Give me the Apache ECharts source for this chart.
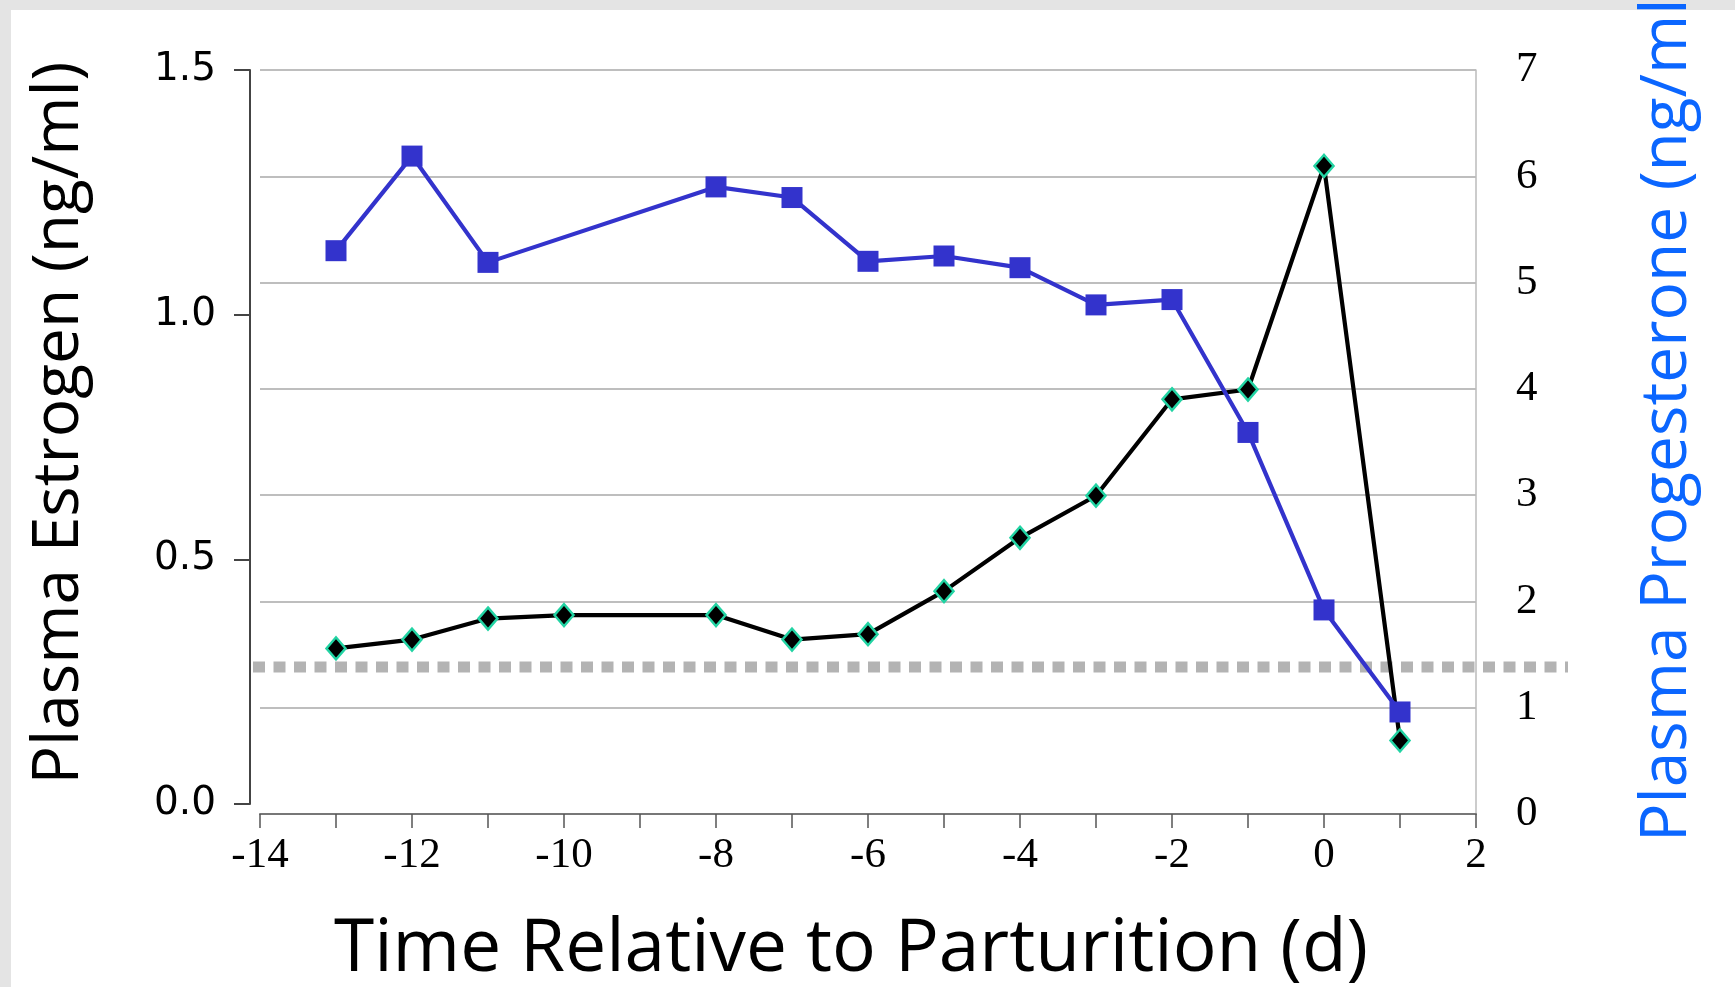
<!DOCTYPE html>
<html>
<head>
<meta charset="utf-8">
<script src="https://cdn.jsdelivr.net/npm/echarts@6/dist/echarts.min.js"></script>
<style>
  html, body { margin: 0; padding: 0; background: #ffffff; }
  #chart { width: 1735px; height: 987px; }
</style>
</head>
<body>
<div id="chart"></div>
<script>
// ---- data ----
const estrogenDays = [-13, -12, -11, -10, -8, -7, -6, -5, -4, -3, -2, -1, 0, 1];
const estrogen = [0.318, 0.336, 0.379, 0.386, 0.386, 0.336, 0.347, 0.435, 0.544, 0.630, 0.827, 0.847, 1.304, 0.130];
const progesteroneDays = [-13, -12, -11, -8, -7, -6, -5, -4, -3, -2, -1, 0, 1];
const progesterone = [5.30, 6.19, 5.19, 5.90, 5.80, 5.20, 5.25, 5.14, 4.79, 4.84, 3.59, 1.92, 0.96];
const thresholdValue = 0.28;
const xRange = [-14, 2];
const progRange = [0, 7];
const estRange = [0, 1.5];

const titleX = 'Time Relative to Parturition (d)';
const titleLeft = 'Plasma Estrogen (ng/ml)';
const titleRight = 'Plasma Progesterone (ng/ml)';

const estData = estrogenDays.map((d, i) => [d, estrogen[i]]);
const progData = progesteroneDays.map((d, i) => [d, progesterone[i]]);
const thrData = [[0, thresholdValue], [1, thresholdValue]];

const chart = echarts.init(document.getElementById('chart'), null, { renderer: 'canvas' });

const serif = 'Liberation Serif, Times New Roman, serif';
const sans = 'Open Sans, Noto Sans, sans-serif';

chart.setOption({
  animation: false,
  backgroundColor: '#ffffff',
  grid: [
    { left: 260, right: 259, top: 70, bottom: 173 },
    { left: 260, right: 259, top: 70, bottom: 183 },
    { left: 253, right: 167, top: 70, bottom: 183 }
  ],
  xAxis: [
    {
      gridIndex: 0, type: 'value', min: xRange[0], max: xRange[1], interval: 2,
      axisLine: { show: true, onZero: false, lineStyle: { color: '#777', width: 2 } },
      axisTick: { show: true, length: 14, lineStyle: { color: '#555', width: 1.5 } },
      minorTick: { show: true, splitNumber: 2, length: 14, lineStyle: { color: '#555', width: 1.5 } },
      splitLine: { show: false },
      axisLabel: { fontFamily: serif, fontSize: 43, color: '#000', margin: 20 }
    },
    { gridIndex: 1, type: 'value', min: xRange[0], max: xRange[1], show: false },
    { gridIndex: 2, type: 'value', min: 0, max: 1, show: false }
  ],
  yAxis: [
    {
      gridIndex: 0, type: 'value', position: 'right', min: progRange[0], max: progRange[1], interval: 1,
      axisLine: { show: true, onZero: false, lineStyle: { color: '#bbb', width: 1.5 } },
      axisTick: { show: false },
      axisLabel: { fontFamily: serif, fontSize: 43, color: '#000', margin: 40 },
      splitLine: { show: true, lineStyle: { color: '#a8a8a8', width: 1.5 } }
    },
    {
      gridIndex: 1, type: 'value', position: 'left', offset: 10,
      min: estRange[0], max: estRange[1], interval: 0.5,
      axisLine: { show: true, onZero: false, lineStyle: { color: '#444', width: 2 } },
      axisTick: { show: true, length: 16, lineStyle: { color: '#444', width: 2 } },
      axisLabel: { formatter: v => v.toFixed(1), fontFamily: 'DejaVu Sans, Verdana, sans-serif', fontSize: 39, color: '#000', margin: 34 },
      splitLine: { show: false }
    },
    { gridIndex: 2, type: 'value', min: estRange[0], max: estRange[1], show: false }
  ],
  series: [
    {
      name: 'threshold', type: 'line', xAxisIndex: 2, yAxisIndex: 2, data: thrData,
      symbol: 'none', z: 1, silent: true,
      lineStyle: { color: '#b3b3b3', width: 11, type: [12, 8.5] }
    },
    {
      name: 'Estrogen', type: 'line', xAxisIndex: 1, yAxisIndex: 1, data: estData,
      symbol: 'diamond', symbolSize: [19, 22], z: 3,
      lineStyle: { color: '#000', width: 4.2 },
      itemStyle: { color: '#000', borderColor: '#22d3a3', borderWidth: 2.5 }
    },
    {
      name: 'Progesterone', type: 'line', xAxisIndex: 0, yAxisIndex: 0, data: progData,
      symbol: 'rect', symbolSize: 21, z: 4,
      lineStyle: { color: '#3333cc', width: 4.2 },
      itemStyle: { color: '#3333cc' }
    }
  ],
  graphic: [
    { type: 'rect', left: 0, top: 0, shape: { width: 1735, height: 10 }, style: { fill: '#e4e4e4' }, silent: true },
    { type: 'rect', left: 0, top: 0, shape: { width: 11, height: 987 }, style: { fill: '#e4e4e4' }, silent: true },
    {
      type: 'text', x: 60, y: 423, rotation: Math.PI / 2,
      style: { text: titleLeft, fontFamily: sans, fontSize: 64, fill: '#000', textAlign: 'center', textVerticalAlign: 'middle', align: 'center', verticalAlign: 'middle' }
    },
    {
      type: 'text', x: 851, y: 950,
      style: { text: titleX, fontFamily: sans, fontSize: 73, fill: '#000', textAlign: 'center', textVerticalAlign: 'middle', align: 'center', verticalAlign: 'middle' }
    },
    {
      type: 'text', x: 1668, y: 842, rotation: Math.PI / 2,
      style: { text: titleRight, fontFamily: sans, fontSize: 64, fill: '#0b66ff', textAlign: 'left', textVerticalAlign: 'middle', align: 'left', verticalAlign: 'middle' }
    }
  ]
});
</script>
</body>
</html>
